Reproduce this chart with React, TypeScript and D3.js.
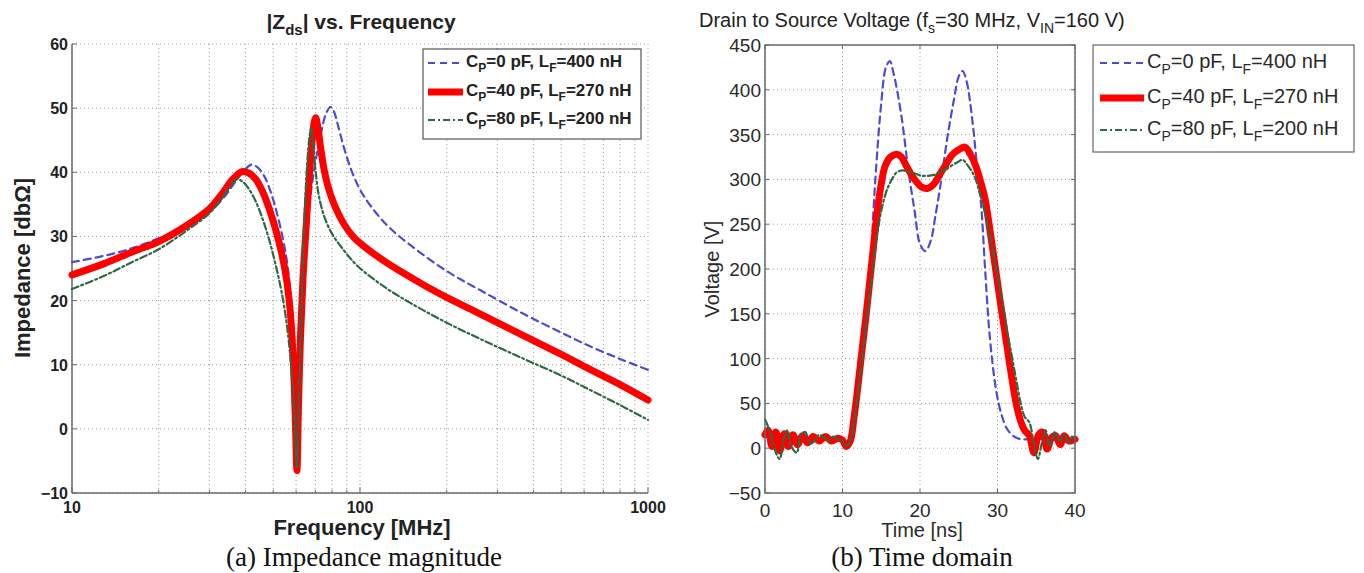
import React from "react";
import * as d3 from "d3";

// ---------- data ----------
const zTicks = [-10, 0, 10, 20, 30, 40, 50, 60];
const freqTickLabels = [10, 100, 1000];
const timeTicks = [0, 10, 20, 30, 40];
const voltTicks = [-50, 0, 50, 100, 150, 200, 250, 300, 350, 400, 450];

const legendCp = ["0", "40", "80"];
const legendLf = ["400", "270", "200"];

// Impedance vs frequency (MHz, dBΩ)
const blueFreq = [10, 13, 16, 20, 25, 30, 34, 37, 40, 42, 44, 46.5, 49, 51.5, 54, 56, 57.7, 58.9, 59.8, 60.4, 61.1, 62, 63.5, 65.7, 69, 73, 76.3, 79, 81, 84, 88, 93, 100, 110, 125, 150, 200, 262, 371, 500, 627, 800, 1000];
const blueZ = [26.0, 27.0, 28.1, 29.7, 31.6, 33.8, 36.3, 38.6, 40.5, 41.2, 40.8, 39.4, 36.9, 33.6, 29.6, 25.5, 19.5, 12, 2, -6.5, 3, 13, 23.5, 32.5, 39.8, 45.8, 49.2, 50.2, 49.6, 47.2, 43.8, 40.5, 37.3, 34.5, 31.6, 28.6, 24.6, 21.6, 17.9, 15.0, 12.9, 10.9, 9.2];

const redFreq = [10, 13, 16, 20, 25, 30, 33, 36, 38.9, 41, 43.5, 46, 48.5, 51, 53.5, 55.5, 57.2, 58.6, 59.6, 60.4, 61.1, 62.1, 63.4, 64.8, 66.5, 68.3, 69.5, 70.2, 71.5, 73, 75, 78, 82, 88, 95, 105, 120, 140, 170, 200, 262, 371, 500, 627, 800, 1000];
const redZ = [24.0, 25.8, 27.5, 29.2, 31.7, 34.3, 36.5, 38.8, 40.1, 39.9, 38.9, 36.9, 34.2, 31, 27.3, 23.5, 18.5, 11, 2, -6.5, 3, 14, 23.5, 30.5, 38.5, 45.3, 48, 48.5, 46.8, 43.8, 40.5, 37.3, 34.6, 31.9, 29.9, 28.2, 26.3, 24.4, 22.2, 20.5, 17.9, 14.5, 11.6, 9.3, 6.9, 4.5];

const greenFreq = [10, 13, 16, 20, 25, 30, 33, 35.5, 37.3, 39, 41, 43.5, 46, 48.5, 51, 53.5, 55.8, 57.6, 59.2, 60.4, 61.1, 62, 63, 64.2, 65.6, 66.8, 67.6, 68.8, 70, 72, 75, 80, 88, 98, 121, 150, 197, 262, 371, 500, 627, 800, 1000];
const greenZ = [21.8, 23.9, 25.9, 28.0, 30.9, 33.6, 35.8, 37.8, 38.9, 38.6, 37.5, 35.4, 32.6, 29.3, 25.5, 21.2, 16, 10, 2, -6, 2, 12, 23, 33.5, 41.5, 45.6, 46.8, 44.5, 40.5, 36.3, 33.2, 30.4, 27.8, 25.4, 22.2, 19.6, 16.7, 14.0, 10.9, 8.3, 6.1, 3.7, 1.4];

// Drain-source voltage vs time (ns, V)
const blueTime = [0, 0.5, 1.2, 1.9, 2.6, 3.3, 4.0, 4.8, 5.6, 6.4, 7.2, 8.0, 9.0, 10.0, 10.6, 11.2, 12.0, 12.8, 13.5, 14.2, 15.0, 15.6, 16.1, 16.6, 17.6, 18.5, 19.3, 20.0, 20.7, 21.4, 22.0, 22.7, 23.5, 24.4, 25.0, 25.5, 26.0, 26.7, 27.3, 27.9, 28.4, 29.0, 29.8, 30.5, 31.2, 32.0, 33.0, 34.0, 35, 36, 37, 38, 39, 40];
const blueV = [14, 22, 5, 16, 6, 14, 7, 13, 8, 12, 9, 11, 10, 10, 6, 25, 75, 135, 190, 295, 385, 425, 432, 418, 371, 310, 265, 228, 220, 232, 260, 297, 345, 390, 415, 421, 410, 370, 320, 270, 200, 125, 66, 38, 22, 14, 10, 10, 9, 11, 9, 10, 10, 10];

const redTime = [0, 0.4, 0.9, 1.4, 1.9, 2.5, 3.0, 3.6, 4.2, 4.8, 5.5, 6.2, 7.0, 7.8, 8.6, 9.4, 10.0, 10.5, 11.0, 11.5, 12.0, 12.5, 13.0, 13.5, 14.0, 14.5, 15.0, 15.5, 16.2, 17.0, 17.6, 18.3, 19.3, 20.3, 21.0, 21.8, 22.5, 23.3, 24.2, 25.0, 25.8, 26.5, 27.2, 27.8, 28.4, 29.0, 29.5, 30.0, 30.5, 31.0, 31.5, 32.0, 32.5, 33.0, 33.5, 34.1, 34.7, 35.3, 35.8, 36.4, 37.0, 37.5, 38.1, 38.6, 39.2, 39.8, 40];
const redV = [15, 20, 2, 18, -3, 16, 2, 15, 4, 14, 6, 13, 8, 13, 8, 11, 9, 2, 8, 35, 70, 108, 145, 185, 225, 265, 295, 315, 325, 328, 325, 314, 300, 291, 290, 295, 305, 316, 328, 333, 336, 328, 315, 298, 278, 245, 215, 185, 155, 127, 98, 70, 46, 30, 20, 14, -5, 15, 18, -1, 12, 14, 4, 14, 8, 9, 10];

const greenTime = [0, 0.5, 1.0, 1.4, 1.9, 2.4, 2.9, 3.4, 4.1, 4.6, 5.2, 5.8, 6.4, 7.0, 7.6, 8.2, 8.8, 9.4, 10.0, 10.5, 11.0, 11.5, 12.0, 12.5, 13.0, 13.5, 14.0, 14.5, 15.0, 15.5, 15.9, 16.5, 17.0, 17.8, 18.7, 19.5, 20.3, 21.0, 21.8, 22.5, 23.3, 24.2, 25.0, 25.5, 26.2, 27.0, 27.7, 28.4, 29.0, 29.6, 30.2, 30.8, 31.2, 31.8, 32.4, 33.0, 33.5, 34.1, 34.6, 35.2, 35.7, 36.2, 36.8, 37.4, 38.0, 38.6, 39.2, 39.7, 40];
const greenV = [32, 22, 8, -5, -12, 10, 20, 2, -5, 15, 18, 5, 8, 15, 12, 8, 13, 10, 8, 3, 8, 30, 62, 98, 135, 170, 208, 240, 265, 282, 292, 302, 308, 310, 308, 306, 304, 304, 305, 308, 311, 316, 320, 322, 315, 304, 285, 262, 238, 210, 182, 155, 133, 105, 77, 50, 35, 29, 10, -12, 5, 20, 2, 18, 8, 15, 6, 14, 10];

// ---------- styling ----------
const SANS = "'Liberation Sans', Arial, Helvetica, sans-serif";
const SERIF = "'Liberation Serif', 'Times New Roman', serif";
const BLUE = "#4c4cd0";
const RED = "#ff0000";
const GREEN = "#2c6a46";
const GRID = "#9a9a9a";
const AXIS = "#6a6a6a";

const styles = [
  { color: BLUE, width: 2.2, dash: "7,5" },
  { color: RED, width: 7, dash: undefined as string | undefined },
  { color: GREEN, width: 2.2, dash: "7,3,2,3" },
];

type Seg = { t: string; sub?: boolean };

function SubText(props: {
  segs: Seg[];
  x: number;
  y: number;
  size: number;
  weight?: string | number;
  anchor?: string;
  fill?: string;
  family?: string;
  transform?: string;
}) {
  const { segs, x, y, size, weight = "normal", anchor = "start", fill = "#222", family = SANS, transform } = props;
  const subSize = Math.round(size * 0.72);
  const subDy = size * 0.3;
  let inSub = false;
  return (
    <text x={x} y={y} fontSize={size} fontWeight={weight} textAnchor={anchor} fill={fill} fontFamily={family} transform={transform}>
      {segs.map((s, i) => {
        let dy = 0;
        if (s.sub && !inSub) dy = subDy;
        if (!s.sub && inSub) dy = -subDy;
        inSub = !!s.sub;
        return (
          <tspan key={i} dy={dy} fontSize={s.sub ? subSize : size}>
            {s.t}
          </tspan>
        );
      })}
    </text>
  );
}

function legendSegs(i: number): Seg[] {
  return [
    { t: "C" },
    { t: "P", sub: true },
    { t: "=" + legendCp[i] + " pF, L" },
    { t: "F", sub: true },
    { t: "=" + legendLf[i] + " nH" },
  ];
}

export default function App() {
  const xF = d3.scaleLog().domain([10, 1000]).range([72, 648]);
  const yZ = d3.scaleLinear().domain([-10, 60]).range([493, 44]);
  const xT = d3.scaleLinear().domain([0, 40]).range([765, 1075]);
  const yV = d3.scaleLinear().domain([-50, 450]).range([493, 45]);

  const lineF = d3
    .line<[number, number]>()
    .x((d) => xF(d[0]))
    .y((d) => yZ(d[1]))
    .curve(d3.curveCatmullRom.alpha(0.5));
  const lineT = d3
    .line<[number, number]>()
    .x((d) => xT(d[0]))
    .y((d) => yV(d[1]))
    .curve(d3.curveCatmullRom.alpha(0.5));

  const zip = (a: number[], b: number[]) => a.map((v, i) => [v, b[i]] as [number, number]);
  const leftSeries = [zip(blueFreq, blueZ), zip(redFreq, redZ), zip(greenFreq, greenZ)];
  const rightSeries = [zip(blueTime, blueV), zip(redTime, redV), zip(greenTime, greenV)];

  const fTicksAll = xF.ticks();
  const [fx0, fx1] = xF.range();
  const [zy0, zy1] = yZ.range();
  const [tx0, tx1] = xT.range();
  const [vy0, vy1] = yV.range();

  return (
    <svg width={1364} height={573} style={{ position: "absolute", left: 0, top: 0, background: "#fff" }}>
      <rect x={0} y={0} width={1364} height={573} fill="#fff" />

      {/* ================= LEFT PANEL ================= */}
      <g>
        {fTicksAll.map((f) => (
          <line key={"fg" + f} x1={xF(f)} x2={xF(f)} y1={zy0} y2={zy1} stroke={GRID} strokeWidth={1} strokeDasharray="1,3" />
        ))}
        {zTicks.map((z) => (
          <line key={"zg" + z} x1={fx0} x2={fx1} y1={yZ(z)} y2={yZ(z)} stroke={GRID} strokeWidth={1} strokeDasharray="1,3" />
        ))}
        <line x1={fx0} x2={fx0} y1={zy0} y2={zy1} stroke={AXIS} strokeWidth={1.5} />
        <line x1={fx0} x2={fx1} y1={zy0} y2={zy0} stroke={AXIS} strokeWidth={1.5} />
        {fTicksAll.map((f) => {
          const major = freqTickLabels.includes(f);
          return <line key={"ft" + f} x1={xF(f)} x2={xF(f)} y1={zy0} y2={zy0 - (major ? 6 : 3)} stroke={AXIS} strokeWidth={1} />;
        })}
        {zTicks.map((z) => (
          <line key={"zt" + z} x1={fx0} x2={fx0 + 5} y1={yZ(z)} y2={yZ(z)} stroke={AXIS} strokeWidth={1} />
        ))}
        {zTicks.map((z) => (
          <text key={"zl" + z} x={fx0 - 4} y={yZ(z) + 6} fontSize={16} fontWeight="bold" textAnchor="end" fontFamily={SANS} fill="#222">
            {z < 0 ? "\u2212" + Math.abs(z) : z}
          </text>
        ))}
        {freqTickLabels.map((f) => (
          <text key={"fl" + f} x={xF(f)} y={513} fontSize={16} fontWeight="bold" textAnchor="middle" fontFamily={SANS} fill="#222">
            {f}
          </text>
        ))}
        {leftSeries.map((s, i) => (
          <path
            key={"ls" + i}
            d={lineF(s) || ""}
            fill="none"
            stroke={styles[i].color}
            strokeWidth={styles[i].width}
            strokeDasharray={styles[i].dash}
            strokeLinecap="round"
            strokeLinejoin="round"
          />
        ))}
        <SubText segs={[{ t: "|Z" }, { t: "ds", sub: true }, { t: "| vs. Frequency" }]} x={361} y={29} size={21} weight="bold" anchor="middle" />
        <text x={362} y={535} fontSize={22} fontWeight="bold" textAnchor="middle" fontFamily={SANS} fill="#222">
          Frequency [MHz]
        </text>
        <text x={0} y={0} transform="translate(30,268) rotate(-90)" fontSize={22} fontWeight="bold" textAnchor="middle" fontFamily={SANS} fill="#222">
          Impedance [dbΩ]
        </text>
        <rect x={423} y={49} width={218} height={90} fill="#fff" stroke="#555" strokeWidth={1.2} />
        {[0, 1, 2].map((i) => {
          const base = [67, 96, 124][i];
          return (
            <g key={"ll" + i}>
              <line x1={428} x2={463} y1={base - 4} y2={base - 4} stroke={styles[i].color} strokeWidth={styles[i].width} strokeDasharray={styles[i].dash} />
              <SubText segs={legendSegs(i)} x={466} y={base} size={17} weight="bold" />
            </g>
          );
        })}
        <text x={364} y={566} fontSize={27} textAnchor="middle" fontFamily={SERIF} fill="#111">
          (a) Impedance magnitude
        </text>
      </g>

      {/* ================= RIGHT PANEL ================= */}
      <g>
        {timeTicks.map((t) => (
          <line key={"tg" + t} x1={xT(t)} x2={xT(t)} y1={vy0} y2={vy1} stroke={GRID} strokeWidth={1} strokeDasharray="1,3" />
        ))}
        {voltTicks.map((v) => (
          <line key={"vg" + v} x1={tx0} x2={tx1} y1={yV(v)} y2={yV(v)} stroke={GRID} strokeWidth={1} strokeDasharray="1,3" />
        ))}
        {rightSeries.map((s, i) => (
          <path
            key={"rs" + i}
            d={lineT(s) || ""}
            fill="none"
            stroke={styles[i].color}
            strokeWidth={styles[i].width}
            strokeDasharray={styles[i].dash}
            strokeLinecap="round"
            strokeLinejoin="round"
          />
        ))}
        <rect x={tx0} y={vy1} width={tx1 - tx0} height={vy0 - vy1} fill="none" stroke={AXIS} strokeWidth={1.5} />
        {timeTicks.map((t) => (
          <g key={"tt" + t}>
            <line x1={xT(t)} x2={xT(t)} y1={vy0} y2={vy0 - 4} stroke={AXIS} />
            <line x1={xT(t)} x2={xT(t)} y1={vy1} y2={vy1 + 4} stroke={AXIS} />
          </g>
        ))}
        {voltTicks.map((v) => (
          <g key={"vt" + v}>
            <line x1={tx0} x2={tx0 + 4} y1={yV(v)} y2={yV(v)} stroke={AXIS} />
            <line x1={tx1} x2={tx1 - 4} y1={yV(v)} y2={yV(v)} stroke={AXIS} />
          </g>
        ))}
        {voltTicks.map((v) => (
          <text key={"vl" + v} x={tx0 - 4} y={yV(v) + 7} fontSize={19} textAnchor="end" fontFamily={SANS} fill="#2a2a2a">
            {v < 0 ? "\u2212" + Math.abs(v) : v}
          </text>
        ))}
        {timeTicks.map((t) => (
          <text key={"tl" + t} x={xT(t)} y={517} fontSize={19} textAnchor="middle" fontFamily={SANS} fill="#2a2a2a">
            {t}
          </text>
        ))}
        <SubText
          segs={[{ t: "Drain to Source Voltage (f" }, { t: "s", sub: true }, { t: "=30 MHz, V" }, { t: "IN", sub: true }, { t: "=160 V)" }]}
          x={699}
          y={27}
          size={20}
        />
        <text x={922} y={537} fontSize={20} textAnchor="middle" fontFamily={SANS} fill="#2a2a2a">
          Time [ns]
        </text>
        <text x={0} y={0} transform="translate(719,269) rotate(-90)" fontSize={20} textAnchor="middle" fontFamily={SANS} fill="#2a2a2a">
          Voltage [V]
        </text>
        <rect x={1093} y={45} width={261} height={107} fill="#fff" stroke="#666" strokeWidth={1.2} />
        {[0, 1, 2].map((i) => {
          const base = [68, 103, 135][i];
          return (
            <g key={"rl" + i}>
              <line x1={1100} x2={1144} y1={base - 5} y2={base - 5} stroke={styles[i].color} strokeWidth={styles[i].width} strokeDasharray={styles[i].dash} />
              <SubText segs={legendSegs(i)} x={1147} y={base} size={20} fill="#2a2a2a" />
            </g>
          );
        })}
        <text x={922} y={566} fontSize={27} textAnchor="middle" fontFamily={SERIF} fill="#111">
          (b) Time domain
        </text>
      </g>
    </svg>
  );
}
